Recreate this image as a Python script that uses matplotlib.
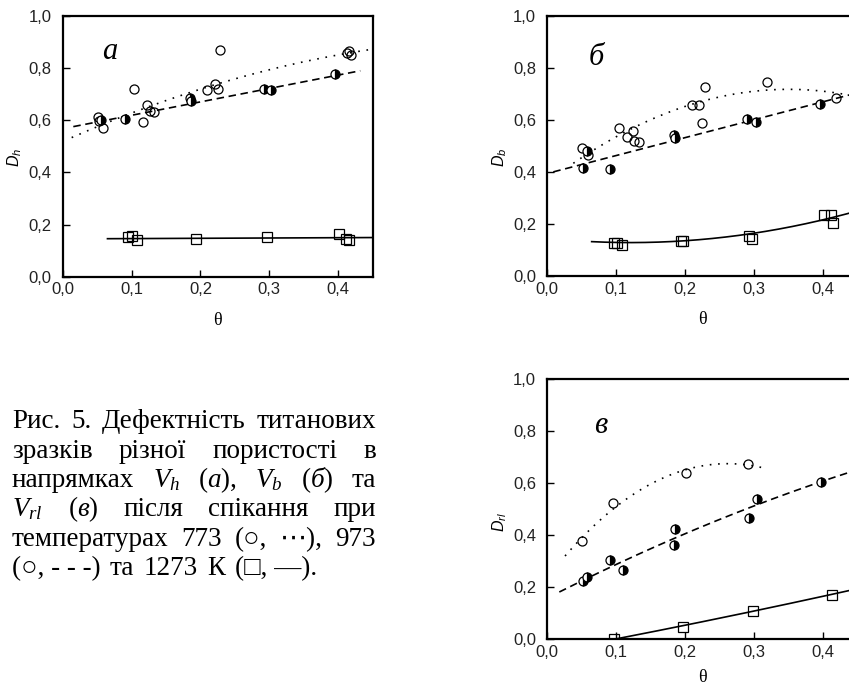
import numpy as np
import matplotlib
matplotlib.use("Agg")
import matplotlib.pyplot as plt
from matplotlib.transforms import IdentityTransform

plt.rcParams['font.family'] = ['Liberation Sans', 'DejaVu Sans']
plt.rcParams['mathtext.fontset'] = 'custom'
plt.rcParams['mathtext.rm'] = 'Liberation Serif'
plt.rcParams['mathtext.it'] = 'Liberation Serif:italic'
plt.rcParams['mathtext.sf'] = 'Liberation Sans:italic'

# ---------------- data ----------------
x_ticks = [0.0, 0.1, 0.2, 0.3, 0.4]
x_tick_labels = ["0,0", "0,1", "0,2", "0,3", "0,4"]
y_ticks = [0.0, 0.2, 0.4, 0.6, 0.8, 1.0]
y_tick_labels = ["0,0", "0,2", "0,4", "0,6", "0,8", "1,0"]

# panel a  (D_h)
a_773_x = [0.051, 0.053, 0.058, 0.104, 0.116, 0.123, 0.126, 0.133, 0.210, 0.221, 0.225, 0.228, 0.415, 0.412, 0.419]
a_773_y = [0.611, 0.598, 0.569, 0.720, 0.592, 0.658, 0.636, 0.630, 0.715, 0.738, 0.719, 0.869, 0.866, 0.856, 0.851]
a_973_x = [0.056, 0.091, 0.1845, 0.186, 0.292, 0.303, 0.395]
a_973_y = [0.600, 0.605, 0.686, 0.673, 0.720, 0.715, 0.775]
a_1273_x = [0.095, 0.101, 0.108, 0.194, 0.296, 0.401, 0.411, 0.415]
a_1273_y = [0.151, 0.156, 0.141, 0.143, 0.153, 0.164, 0.146, 0.141]

# panel б  (D_b)
b_773_x = [0.051, 0.0585, 0.104, 0.116, 0.124, 0.126, 0.1325, 0.210, 0.220, 0.224, 0.2286, 0.319, 0.419]
b_773_y = [0.493, 0.464, 0.569, 0.535, 0.558, 0.519, 0.514, 0.658, 0.658, 0.587, 0.725, 0.745, 0.685]
b_973_x = [0.057, 0.052, 0.091, 0.184, 0.1855, 0.290, 0.302, 0.395]
b_973_y = [0.481, 0.416, 0.410, 0.542, 0.531, 0.602, 0.590, 0.660]
b_1273_x = [0.0967, 0.1014, 0.1083, 0.1933, 0.196, 0.2928, 0.2967, 0.401, 0.4107, 0.4145]
b_1273_y = [0.128, 0.126, 0.119, 0.136, 0.133, 0.154, 0.143, 0.233, 0.233, 0.205]

# panel в  (D_rl)
v_773_x = [0.0503, 0.0957, 0.2006, 0.2909]
v_773_y = [0.377, 0.524, 0.638, 0.673]
v_973_x = [0.0513, 0.0571, 0.0909, 0.110, 0.185, 0.184, 0.2919, 0.3035, 0.3967]
v_973_y = [0.224, 0.238, 0.305, 0.266, 0.424, 0.362, 0.467, 0.538, 0.604]
v_1273_x = [0.0967, 0.197, 0.2986, 0.4126]
v_1273_y = [0.0, 0.046, 0.108, 0.169]

# fitted trend curves: knots, polynomial degree, drawn range
a_fit_773 = dict(kx=[0.013, 0.209, 0.448], ky=[0.533, 0.726, 0.871], deg=2, rng=(0.013, 0.45))
a_fit_973 = dict(kx=[0.0154, 0.432], ky=[0.575, 0.789], deg=1, rng=(0.0154, 0.432))
a_fit_1273 = dict(kx=[0.065, 0.45], ky=[0.1456, 0.150], deg=1, rng=(0.065, 0.45))
b_fit_773 = dict(kx=[0.0377, 0.231, 0.437], ky=[0.433, 0.676, 0.695], deg=2, rng=(0.0377, 0.45))
b_fit_973 = dict(kx=[0.0087, 0.437], ky=[0.400, 0.695], deg=1, rng=(0.0087, 0.45))
b_fit_1273 = dict(kx=[0.0643, 0.2986, 0.437], ky=[0.132, 0.164, 0.241], deg=2, rng=(0.0643, 0.45))
v_fit_773 = dict(kx=[0.0257, 0.0812, 0.1343, 0.231, 0.3155], ky=[0.32, 0.469, 0.573, 0.669, 0.657], deg=3, rng=(0.0257, 0.3155))
v_fit_973 = dict(kx=[0.0174, 0.1826, 0.3035, 0.437], ky=[0.183, 0.381, 0.522, 0.639], deg=2, rng=(0.0174, 0.45))
v_fit_1273 = dict(kx=[0.0967, 0.2986, 0.437], ky=[0.0, 0.108, 0.187], deg=2, rng=(0.0967, 0.45))

caption_lines = [
    ["Рис.", "5.", "Дефектність", "титанових"],
    ["зразків", "різної", "пористості", "в"],
    ["напрямках", "$V_h$", "$(а)$,", "$V_b$", "$(б)$", "та"],
    ["$V_{rl}$", "$(в)$", "після", "спікання", "при"],
    ["температурах", "773", "(○,", "⋯),", "973"],
    ["(○, - - -)", "та", "1273", "К", "(□, —)."],
]

# ---------------- figure ----------------
W, H = 849, 687
fig = plt.figure(figsize=(W / 100, H / 100), dpi=100)


def px_axes(left, top, width, height):
    return fig.add_axes([left / W, 1 - (top + height) / H, width / W, height / H])


def draw_fit(ax, fit, ls):
    coef = np.polyfit(fit['kx'], fit['ky'], fit['deg'])
    xs = np.linspace(fit['rng'][0], fit['rng'][1], 200)
    ax.plot(xs, np.polyval(coef, xs), color='black', lw=1.2, linestyle=ls, zorder=2)


def style_axes(ax):
    ax.set_xlim(0, 0.45)
    ax.set_ylim(0, 1.0)
    ax.set_xticks(x_ticks)
    ax.set_xticklabels(x_tick_labels)
    ax.set_yticks(y_ticks)
    ax.set_yticklabels(y_tick_labels)
    for s in ax.spines.values():
        s.set_linewidth(1.6)
    ax.tick_params(direction='in', length=5, width=1.0, labelsize=12, colors='black',
                   labelcolor='#222222')
    ax.tick_params(axis='x', pad=4)
    ax.tick_params(axis='y', pad=8)


def draw_panel(ax, d773, d973, d1273, fits, letter, letter_pos, ylabel, ylabel_px, xlabel_y):
    draw_fit(ax, fits[0], (0, (1, 4)))
    draw_fit(ax, fits[1], (0, (4.5, 2.8)))
    draw_fit(ax, fits[2], '-')
    ax.plot(d773[0], d773[1], 'o', ls='none', ms=6.5, mfc='none', mec='black', mew=0.9, zorder=3)
    ax.plot(d973[0], d973[1], 'o', ls='none', ms=6.5, mfc='black', mfcalt='white',
            fillstyle='right', mec='black', mew=0.9, zorder=3)
    ax.plot(d1273[0], d1273[1], 's', ls='none', ms=6.5, mfc='none', mec='black', mew=0.9, zorder=3)
    style_axes(ax)
    ax.text(letter_pos[0], letter_pos[1], letter, transform=ax.transAxes, fontsize=22,
            family='Liberation Serif', style='italic', ha='center', va='center')
    ax.text(0.5, xlabel_y, "θ", transform=ax.transAxes, fontsize=13,
            family='Liberation Serif', ha='center', va='center')
    fig.text(ylabel_px[0] / W, 1 - ylabel_px[1] / H, ylabel, rotation=90, fontsize=11.5,
             ha='center', va='center')


ax_a = px_axes(62.7, 15.7, 310.0, 261.0)
ax_b = px_axes(547.3, 15.7, 310.5, 260.3)
ax_v = px_axes(547.3, 379.0, 310.5, 260.3)

draw_panel(ax_a, (a_773_x, a_773_y), (a_973_x, a_973_y), (a_1273_x, a_1273_y),
           (a_fit_773, a_fit_973, a_fit_1273), "a", (0.153, 0.862),
           r"$\mathsf{D}_{\mathsf{h}}$", (15, 157), -0.166)
draw_panel(ax_b, (b_773_x, b_773_y), (b_973_x, b_973_y), (b_1273_x, b_1273_y),
           (b_fit_773, b_fit_973, b_fit_1273), "б", (0.157, 0.8375),
           r"$\mathsf{D}_{\mathsf{b}}$", (500, 157), -0.168)
draw_panel(ax_v, (v_773_x, v_773_y), (v_973_x, v_973_y), (v_1273_x, v_1273_y),
           (v_fit_773, v_fit_973, v_fit_1273), "в", (0.173, 0.823),
           r"$\mathsf{D}_{\mathsf{rl}}$", (500, 522), -0.146)

# ---------------- caption (justified) ----------------
renderer = fig.canvas.get_renderer()
cap_fs = 19.5
cap_family = ['Liberation Serif', 'DejaVu Serif', 'DejaVu Sans']
baselines = [428, 457.5, 487, 516.5, 546, 575]
x_left, x_right = 12, 376
last_right = 317
for i, words in enumerate(caption_lines):
    y = H - baselines[i]
    texts = [fig.text(0, y, w, transform=IdentityTransform(), fontsize=cap_fs,
                      family=cap_family, ha='left', va='baseline')
             for w in words]
    widths = [t.get_window_extent(renderer).width for t in texts]
    right = last_right if i == len(caption_lines) - 1 else x_right
    gap = (right - x_left - sum(widths)) / (len(words) - 1)
    x = x_left
    for t, w in zip(texts, widths):
        t.set_x(x)
        x += w + gap

fig.savefig("out.png", dpi=100)
